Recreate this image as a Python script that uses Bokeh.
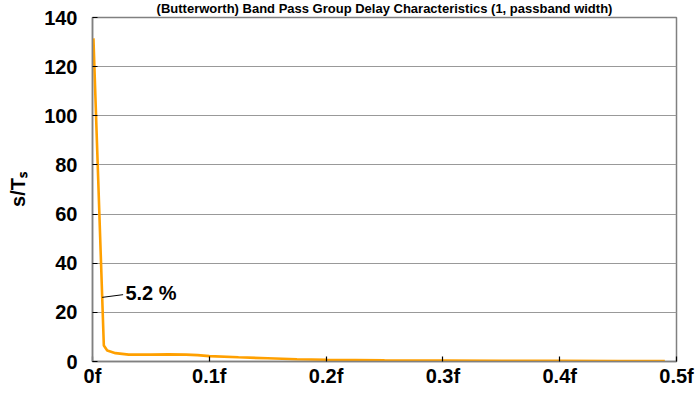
from bokeh.plotting import figure
from bokeh.models import FixedTicker, Label, Range1d
from bokeh.embed import file_html
from bokeh.resources import INLINE

# ---- data ----
freq = [0.0008, 0.0097, 0.0126, 0.0197, 0.031, 0.05, 0.065, 0.08, 0.09, 0.1,
        0.125, 0.15, 0.175, 0.2, 0.25, 0.3, 0.35, 0.4, 0.45, 0.49]
delay = [131.5, 6.5, 4.5, 3.4, 2.8, 2.8, 2.9, 2.8, 2.6, 2.2,
         1.7, 1.3, 0.9, 0.7, 0.5, 0.4, 0.3, 0.3, 0.2, 0.2]

x_ticks = [0, 0.1, 0.2, 0.3, 0.4, 0.5]
x_tick_labels = ["0f", "0.1f", "0.2f", "0.3f", "0.4f", "0.5f"]
y_ticks = [0, 20, 40, 60, 80, 100, 120, 140]

title_text = "(Butterworth) Band Pass Group Delay Characteristics (1, passband width)"
y_label = "s/T\u209b"
note_text = "5.2 %"
note_point = (0.0083, 26.1)
note_text_pos = (0.0282, 27.8)

FONT = "Liberation Sans"

p = figure(width=695, height=393, output_backend="svg", toolbar_location=None,
           x_range=Range1d(0, 0.5), y_range=Range1d(0, 140),
           min_border_left=92, min_border_right=19, min_border_top=16,
           min_border_bottom=32, background_fill_color="white",
           border_fill_color="white")

p.title.text = title_text
p.title.text_font = FONT
p.title.text_font_style = "bold"
p.title.text_font_size = "13px"
p.title.text_color = "black"
p.title.align = "center"
p.title.vertical_align = "top"
p.title.standoff = 0

p.line(freq, delay, line_color="#FFA000", line_width=2.6)

# axes
for ax in (p.xaxis[0], p.yaxis[0]):
    ax.axis_line_color = "#808080"
    ax.axis_line_width = 1.5
    ax.major_tick_in = 5
    ax.major_tick_out = 0
    ax.major_tick_line_color = "black"
    ax.major_tick_line_width = 1.2
    ax.minor_tick_line_color = None
    ax.major_label_text_font = FONT
    ax.major_label_text_font_style = "bold"
    ax.major_label_text_font_size = "20px"
    ax.major_label_text_color = "black"

p.xaxis.ticker = FixedTicker(ticks=x_ticks)
p.xaxis.major_label_overrides = {t: s for t, s in zip(x_ticks, x_tick_labels)}
p.xaxis.major_label_standoff = 3

p.yaxis.ticker = FixedTicker(ticks=y_ticks)
p.yaxis.major_label_standoff = 15
p.yaxis.axis_label = y_label
p.yaxis.axis_label_text_font = FONT
p.yaxis.axis_label_text_font_style = "bold"
p.yaxis.axis_label_text_font_size = "20px"
p.yaxis.axis_label_text_color = "black"
p.yaxis.axis_label_standoff = 12

p.xgrid.grid_line_color = None
p.ygrid.grid_line_color = "#999999"
p.ygrid.grid_line_width = 1

p.outline_line_color = "#808080"
p.outline_line_width = 1.5

# annotation
p.segment(x0=[note_point[0]], y0=[note_point[1]],
          x1=[note_text_pos[0] - 0.002], y1=[note_text_pos[1] - 0.6],
          line_color="black", line_width=1)
p.add_layout(Label(x=note_text_pos[0], y=note_text_pos[1], text=note_text,
                   text_baseline="middle", text_align="left",
                   text_font=FONT, text_font_style="bold",
                   text_font_size="20px", text_color="black"))

open("out.html", "w").write(file_html(p, INLINE))
